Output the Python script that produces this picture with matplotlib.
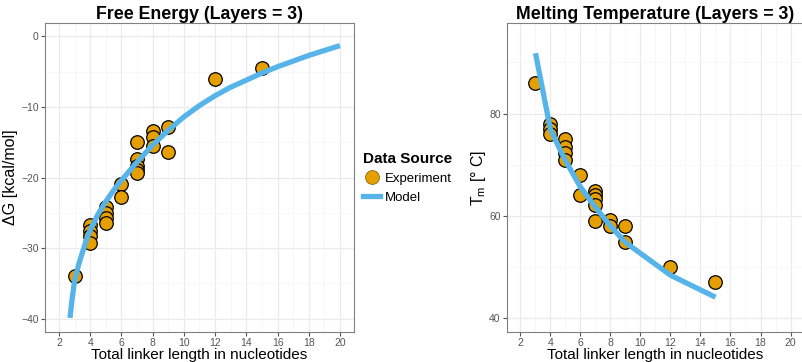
import matplotlib.pyplot as plt
from matplotlib.lines import Line2D
from matplotlib.ticker import MultipleLocator

plt.rcParams['font.family'] = ['Liberation Sans', 'DejaVu Sans']

# experiment, free energy
dg_x = [3, 4, 4, 4, 4, 5, 5, 5, 5, 6, 6, 7, 7, 7, 7, 7, 8, 8, 8, 9, 9, 12, 15]
dg_y = [-33.9, -26.7, -27.6, -28.3, -29.3, -24.2, -25.0, -25.7, -26.4, -20.9, -22.7,
        -14.9, -17.4, -18.3, -18.9, -19.3, -13.4, -14.2, -15.5, -12.9, -16.4, -6.0, -4.5]
# model, free energy
dgm_x = [2.7, 2.85, 3, 3.25, 3.5, 3.75, 4, 4.5, 5, 5.5, 6, 7, 8, 9, 10, 11, 12, 13, 14,
         15, 16, 17, 18, 19, 20]
dgm_y = [-39.9, -37.0, -34.6, -32.4, -30.6, -28.9, -27.4, -25.2, -23.4, -21.8, -20.4,
         -17.8, -15.4, -13.3, -11.4, -9.8, -8.4, -7.2, -6.2, -5.2, -4.3, -3.5, -2.7,
         -2.0, -1.3]

# experiment, melting temperature
tm_x = [3, 4, 4, 4, 5, 5, 5, 5, 6, 6, 7, 7, 7, 7, 7, 8, 8, 9, 9, 12, 15]
tm_y = [86.0, 78.0, 77.0, 76.0, 75.0, 73.5, 72.3, 71.0, 68.0, 64.1,
        64.9, 64.1, 63.2, 62.1, 59.0, 59.2, 58.1, 58.0, 54.9, 50.0, 47.0]
# model, melting temperature
tmm_x = [3, 4, 5, 6, 7, 8, 9, 12, 15]
tmm_y = [91.8, 76.8, 70.8, 65.6, 61.7, 58.0, 54.8, 48.4, 44.1]

orange = '#E69F00'
blue = '#56B4E9'

fig = plt.figure(figsize=(8.03, 3.62), dpi=100)
W, H = 803, 362
ax1 = fig.add_axes([45/W, 30/H, 309/W, 309/H])
ax2 = fig.add_axes([507/W, 30/H, 297/W, 309/H])

def style(ax):
    ax.set_xlim(1.1, 20.9)
    ax.xaxis.set_major_locator(MultipleLocator(2))
    ax.xaxis.set_minor_locator(MultipleLocator(1))
    ax.grid(which='major', color='#EBEBEB', lw=0.9)
    ax.grid(which='minor', color='#F4F4F4', lw=0.5)
    ax.set_axisbelow(True)
    for s in ax.spines.values():
        s.set_color('#808080')
        s.set_linewidth(0.8)
    ax.tick_params(which='major', length=3, color='#555555', labelsize=7.5,
                   labelcolor='#555555', pad=1.5)
    ax.tick_params(which='minor', length=0)
    ax.set_xlabel('Total linker length in nucleotides', fontsize=11, labelpad=-0.5)

ax1.scatter(dg_x, dg_y, s=95, c=orange, edgecolors='black', linewidths=0.9, zorder=2)
ax1.plot(dgm_x, dgm_y, color=blue, lw=3.8, zorder=3, solid_capstyle='butt')
style(ax1)
ax1.set_ylim(-41.9, 1.9)
ax1.yaxis.set_major_locator(MultipleLocator(10))
ax1.yaxis.set_minor_locator(MultipleLocator(5))
ax1.set_ylabel('ΔG [kcal/mol]', fontsize=11.5, labelpad=2)
ax1.set_title('Free Energy (Layers = 3)', fontsize=12.8, fontweight='bold', pad=2)

ax2.scatter(tm_x, tm_y, s=95, c=orange, edgecolors='black', linewidths=0.9, zorder=2)
ax2.plot(tmm_x, tmm_y, color=blue, lw=3.8, zorder=3, solid_capstyle='butt')
style(ax2)
ax2.set_ylim(37.3, 97.7)
ax2.yaxis.set_major_locator(MultipleLocator(20))
ax2.yaxis.set_minor_locator(MultipleLocator(10))
ax2.set_ylabel('T$_\\mathregular{m}$ [° C]', fontsize=11.5, labelpad=1)
ax2.set_title('Melting Temperature (Layers = 3)', fontsize=12.8, fontweight='bold', pad=2)

handles = [
    Line2D([], [], marker='o', ls='none', markersize=10, markerfacecolor=orange,
           markeredgecolor='#7a5500', markeredgewidth=0.5),
    Line2D([], [], color=blue, lw=3.8),
]
leg = fig.legend(handles, ['Experiment', 'Model'], title='Data Source',
                 loc='upper left', bbox_to_anchor=(358/W, 1 - 147/H),
                 frameon=False, fontsize=9.5, handlelength=1.3,
                 handletextpad=0.3, labelspacing=0.5, borderaxespad=0)
leg.get_title().set_fontweight('bold')
leg.get_title().set_fontsize(11)
leg._legend_box.align = 'left'

fig.savefig('out.png', dpi=100)
